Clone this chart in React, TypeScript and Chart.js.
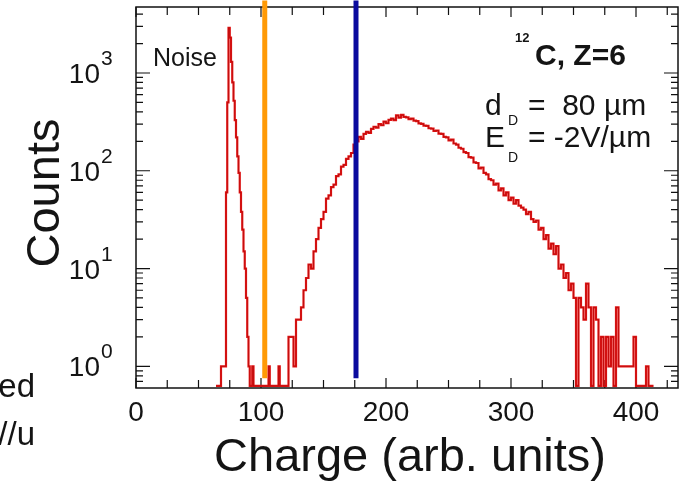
import { useEffect, useRef } from "react";
import { Chart, registerables } from "chart.js";

Chart.register(...registerables);

// ---- data ----
// Noise peak: 1-unit bins starting at charge 64
const NOISE_START = 64;
const NOISE_BIN = 1;
const noiseCounts = [
  0, 0, 0, 0, 0, 1, 1, 1, 1, 60, 500, 2900, 2300, 1300, 800, 520, 330, 220, 140, 95,
  60, 38, 25, 15, 10, 5, 2, 1, 0, 0, 1, 0, 0, 0, 0, 0, 0, 0, 0, 0,
  0, 0, 0, 1, 0, 0, 0, 0, 0, 0, 0, 1,
];

// Carbon signal: 2-unit bins starting at charge 116
const SIGNAL_START = 116;
const SIGNAL_BIN = 2;
const signalCounts = [
  0, 0, 0, 0, 2, 2, 1, 3, 3, 4,
  6, 8, 11, 10, 15, 20, 26, 32, 38, 52,
  56, 68, 72, 88, 92, 110, 115, 132, 140, 152,
  185, 200, 222, 212, 238, 250, 244, 268, 282, 276,
  300, 292, 318, 306, 332, 342, 330, 368, 350, 372,
  356, 352, 338, 342, 325, 322, 305, 302, 290, 288,
  272, 270, 255, 258, 240, 238, 222, 220, 205, 208,
  190, 185, 172, 168, 155, 152, 138, 136, 122, 120,
  106, 108, 95, 92, 82, 80, 72, 74, 63, 66,
  56, 60, 50, 53, 46, 50, 44, 42, 40, 36,
  38, 32, 30, 31, 25, 26, 20, 22, 16, 18,
  14, 17, 10, 11, 8, 9, 6, 7, 5, 0,
  5, 4, 3, 7, 4, 0, 4, 3, 0, 2,
  0, 2, 1, 2, 0, 4, 1, 1, 1, 1,
  1, 1, 2, 0, 0, 0, 0, 1, 0, 0,
];

// Selection cuts
const cutLow = 103;
const cutHigh = 176;

// Axis ticks
const xTickValues = [0, 100, 200, 300, 400];
const xTickLabels = ["0", "100", "200", "300", "400"];
const yDecades = [0, 1, 2, 3];
const yDecadeLabels = ["0", "1", "2", "3"];

const X_MIN = 0;
const X_MAX = 433.6;
const Y_MIN = 0.63;
const Y_MAX = 4730;

const FONT = '"Liberation Sans", Arial, Helvetica, sans-serif';

function toPoints(start: number, bin: number, counts: number[]) {
  return counts.map((c, i) => ({ x: start + i * bin, y: c > 0 ? c : Y_MIN }));
}

const framePlugin = {
  id: "rootFrame",
  beforeDatasetsDraw(chart: any) {
    const { ctx, chartArea: a, scales } = chart;
    const x = scales.x;
    const y = scales.y;
    ctx.save();
    ctx.strokeStyle = "#111";
    ctx.lineWidth = 1.5;
    ctx.strokeRect(a.left, a.top, a.right - a.left, a.bottom - a.top);
    ctx.lineWidth = 1.2;
    ctx.beginPath();
    for (let v = 0; v <= X_MAX; v += 25) {
      const px = x.getPixelForValue(v);
      const len = v % 100 === 0 ? 10 : 8;
      ctx.moveTo(px, a.bottom);
      ctx.lineTo(px, a.bottom - len);
      ctx.moveTo(px, a.top);
      ctx.lineTo(px, a.top + len);
    }
    for (let d = -1; d <= 3; d++) {
      for (let m = 1; m <= 9; m++) {
        const v = m * Math.pow(10, d);
        if (v < Y_MIN || v > Y_MAX) continue;
        const py = y.getPixelForValue(v);
        const len = m === 1 ? 14 : 7;
        ctx.moveTo(a.left, py);
        ctx.lineTo(a.left + len, py);
        ctx.moveTo(a.right, py);
        ctx.lineTo(a.right - len, py);
      }
    }
    ctx.stroke();
    ctx.restore();
  },
  afterDraw(chart: any) {
    const { ctx, chartArea: a, scales } = chart;
    const x = scales.x;
    const y = scales.y;
    ctx.save();
    ctx.fillStyle = "#141414";
    // x tick labels
    ctx.font = `28px ${FONT}`;
    ctx.textAlign = "center";
    ctx.textBaseline = "alphabetic";
    xTickValues.forEach((v, i) => {
      ctx.fillText(xTickLabels[i], x.getPixelForValue(v), a.bottom + 33);
    });
    // y tick labels 10^n
    yDecades.forEach((d, i) => {
      const py = y.getPixelForValue(Math.pow(10, d));
      ctx.font = `28px ${FONT}`;
      ctx.textAlign = "right";
      ctx.fillText("10", 100, py + 10);
      ctx.font = `21px ${FONT}`;
      ctx.textAlign = "left";
      ctx.fillText(yDecadeLabels[i], 101, py - 8);
    });
    // axis titles
    ctx.font = `47px ${FONT}`;
    ctx.textAlign = "center";
    ctx.fillText("Charge (arb. units)", 410, 471);
    ctx.save();
    ctx.translate(59, 193);
    ctx.rotate(-Math.PI / 2);
    ctx.fillText("Counts", 0, 0);
    ctx.restore();
    // annotations
    ctx.textAlign = "left";
    ctx.font = `25px ${FONT}`;
    ctx.fillText("Noise", 153, 66);
    ctx.font = `bold 13px ${FONT}`;
    ctx.fillText("12", 515, 42);
    ctx.font = `bold 30px ${FONT}`;
    ctx.fillText("C, Z=6", 535, 65);
    ctx.font = `30px ${FONT}`;
    ctx.fillText("d", 485, 115);
    ctx.fillText("=  80 \u00b5m", 528, 115);
    ctx.fillText("E", 485, 147);
    ctx.fillText("= -2V/\u00b5m", 528, 147);
    ctx.font = `14px ${FONT}`;
    ctx.fillText("D", 508, 125);
    ctx.fillText("D", 508, 162);
    // clipped fragments at the left edge
    ctx.font = `33px ${FONT}`;
    ctx.textAlign = "right";
    ctx.fillText("ed", 35, 397);
    ctx.fillText("//u", 35, 445);
    ctx.restore();
  },
};

export default function App() {
  const ref = useRef<HTMLCanvasElement | null>(null);
  useEffect(() => {
    if (!ref.current) return;
    const histogram = [
      ...toPoints(NOISE_START, NOISE_BIN, noiseCounts),
      ...toPoints(SIGNAL_START, SIGNAL_BIN, signalCounts),
    ];
    const chart = new Chart(ref.current, {
      type: "line",
      data: {
        datasets: [
          {
            label: "cut low",
            data: [
              { x: cutLow, y: 0.755 },
              { x: cutLow, y: 5500 },
            ],
            borderColor: "#ff9a06",
            borderWidth: 5,
            pointRadius: 0,
            clip: false as any,
          },
          {
            label: "cut high",
            data: [
              { x: cutHigh, y: 0.755 },
              { x: cutHigh, y: 5500 },
            ],
            borderColor: "#0a0a9e",
            borderWidth: 5,
            pointRadius: 0,
            clip: false as any,
          },
          {
            label: "Counts (core)",
            data: histogram,
            borderColor: "rgba(110,0,0,0.4)",
            borderWidth: 0.7,
            pointRadius: 0,
            stepped: "after",
          },
          {
            label: "Counts",
            data: histogram,
            borderColor: "#e41414",
            borderWidth: 2.2,
            pointRadius: 0,
            stepped: "after",
          },
        ],
      },
      options: {
        animation: false,
        responsive: false,
        devicePixelRatio: 1,
        layout: { padding: { left: 136, top: 7, right: 4, bottom: 98 } },
        plugins: { legend: { display: false }, tooltip: { enabled: false } },
        scales: {
          x: { type: "linear", display: false, min: X_MIN, max: X_MAX },
          y: { type: "logarithmic", display: false, min: Y_MIN, max: Y_MAX },
        },
      },
      plugins: [framePlugin],
    });
    return () => chart.destroy();
  }, []);
  return (
    <div style={{ position: "absolute", left: 0, top: 0, width: 682, height: 486, background: "#fff" }}>
      <canvas ref={ref} width={682} height={486} />
    </div>
  );
}
